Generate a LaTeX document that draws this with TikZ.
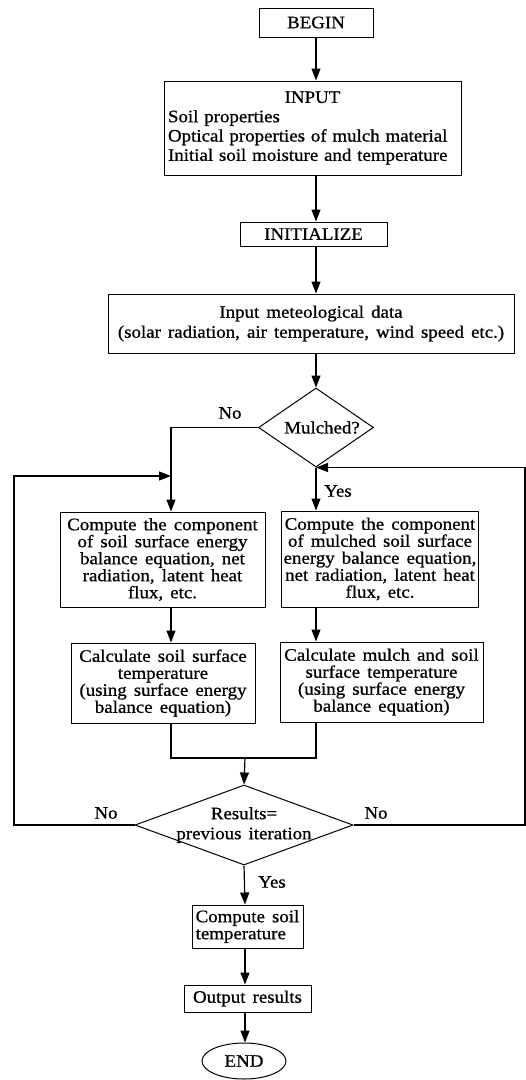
\documentclass[tikz,border=0pt]{standalone}
\usepackage{fontspec}
\setmainfont{Liberation Serif}[FakeStretch=1.08,WordSpace=1.5,FakeBold=0.8]
\usetikzlibrary{shapes.geometric,arrows.meta}
\begin{document}
\begin{tikzpicture}[x=1pt,y=-1pt,
  every node/.style={font=\fontsize{17.5}{17}\selectfont},
  box/.style={draw,line width=1pt,inner sep=2pt,align=center},
  decision/.style={draw,line width=1pt,shape=diamond,inner sep=0pt},
  arr/.style={line width=1.2pt,-{Triangle[length=12pt,width=9pt]}},
  ln/.style={line width=1.2pt},
  lbl/.style={inner sep=0pt}]
\useasboundingbox (0,0) rectangle (526,1080);
% nodes
\node[box,minimum width=114pt,minimum height=29pt] (begin) at (316,22.5) {BEGIN};
\node[box,minimum width=297pt,minimum height=94pt,align=left,text width=289pt,inner sep=4pt,font=\fontsize{17.5}{19.3}\selectfont] (input) at (312.5,128) {\makebox[289pt][c]{INPUT}\\Soil properties\\Optical properties of mulch material\\Initial soil moisture and temperature};
\node[box,minimum width=147pt,minimum height=24pt] (init) at (313.5,234) {INITIALIZE};
\node[box,minimum width=406pt,minimum height=59pt,font=\fontsize{17.5}{20}\selectfont] (meteo) at (311,323.5) {Input meteological data\\(solar radiation, air temperature, wind speed etc.)};
\node[decision,minimum width=115pt,minimum height=79pt,label={[lbl,xshift=6pt]center:Mulched?}] (mulch) at (316,427.5) {};
\node[box,minimum width=205pt,minimum height=95pt] (lcomp) at (162.5,559.5) {Compute the component\\of soil surface energy\\balance equation, net\\radiation, latent heat\\flux, etc.};
\node[box,minimum width=196pt,minimum height=96pt] (rcomp) at (380,559) {Compute the component\\of mulched soil surface\\energy balance equation,\\net radiation, latent heat\\flux, etc.};
\node[box,minimum width=184pt,minimum height=80pt] (lcalc) at (163,683) {Calculate soil surface\\temperature\\(using surface energy\\balance equation)};
\node[box,minimum width=203pt,minimum height=80pt] (rcalc) at (381.5,682) {Calculate mulch and soil\\surface temperature\\(using surface energy\\balance equation)};
\node[decision,minimum width=218pt,minimum height=80pt,label={[lbl,align=center,font=\fontsize{17.5}{20}\selectfont]center:Results=\\previous iteration}] (res) at (244,825) {};
\node[box,minimum width=111pt,minimum height=43pt,align=left] (csoil) at (247.5,926.5) {Compute soil\\temperature};
\node[box,minimum width=127pt,minimum height=27pt] (out) at (247.5,998.5) {Output results};
\node[draw,ellipse,line width=1pt,minimum width=84pt,minimum height=36pt,inner sep=0pt] (end) at (244,1061) {END};
% labels
\node[lbl] (no1) at (230,413) {No};
\node[lbl] (yes1) at (338,491) {Yes};
\node[lbl] (no2) at (106,813) {No};
\node[lbl] (no3) at (376,813) {No};
\node[lbl] (yes2) at (272,882) {Yes};
% coordinates
\coordinate (lx) at (171,0);
\coordinate (rx) at (316,0);
\coordinate (bx) at (245,0);
\coordinate (L) at (14,476);
\coordinate (R) at (525,467.5);
\coordinate (merge) at (245,758);
% connectors
\draw[arr] (rx |- begin.south) -- (rx |- input.north);
\draw[arr] (rx |- input.south) -- (rx |- init.north);
\draw[arr] (rx |- init.south) -- (rx |- meteo.north);
\draw[arr] (rx |- meteo.south) -- (mulch.north);
\draw[arr] (mulch.west) -| (lx |- lcomp.north);
\draw[arr] (mulch.south) -- (rx |- rcomp.north);
\draw[arr] (lx |- lcomp.south) -- (lx |- lcalc.north);
\draw[arr] (rx |- rcomp.south) -- (rx |- rcalc.north);
\draw[ln] (lx |- lcalc.south) |- (merge);
\draw[ln] (rx |- rcalc.south) |- (merge);
\draw[arr] (merge) -- (res.north);
\draw[arr] (res.west) -| (L) -- (lx |- L);
\draw[arr] (res.east) -| (R) -- (rx |- R);
\draw[arr] (res.south) -- (bx |- csoil.north);
\draw[arr] (bx |- csoil.south) -- (bx |- out.north);
\draw[arr] (bx |- out.south) -- (bx |- end.north);
\end{tikzpicture}
\end{document}
